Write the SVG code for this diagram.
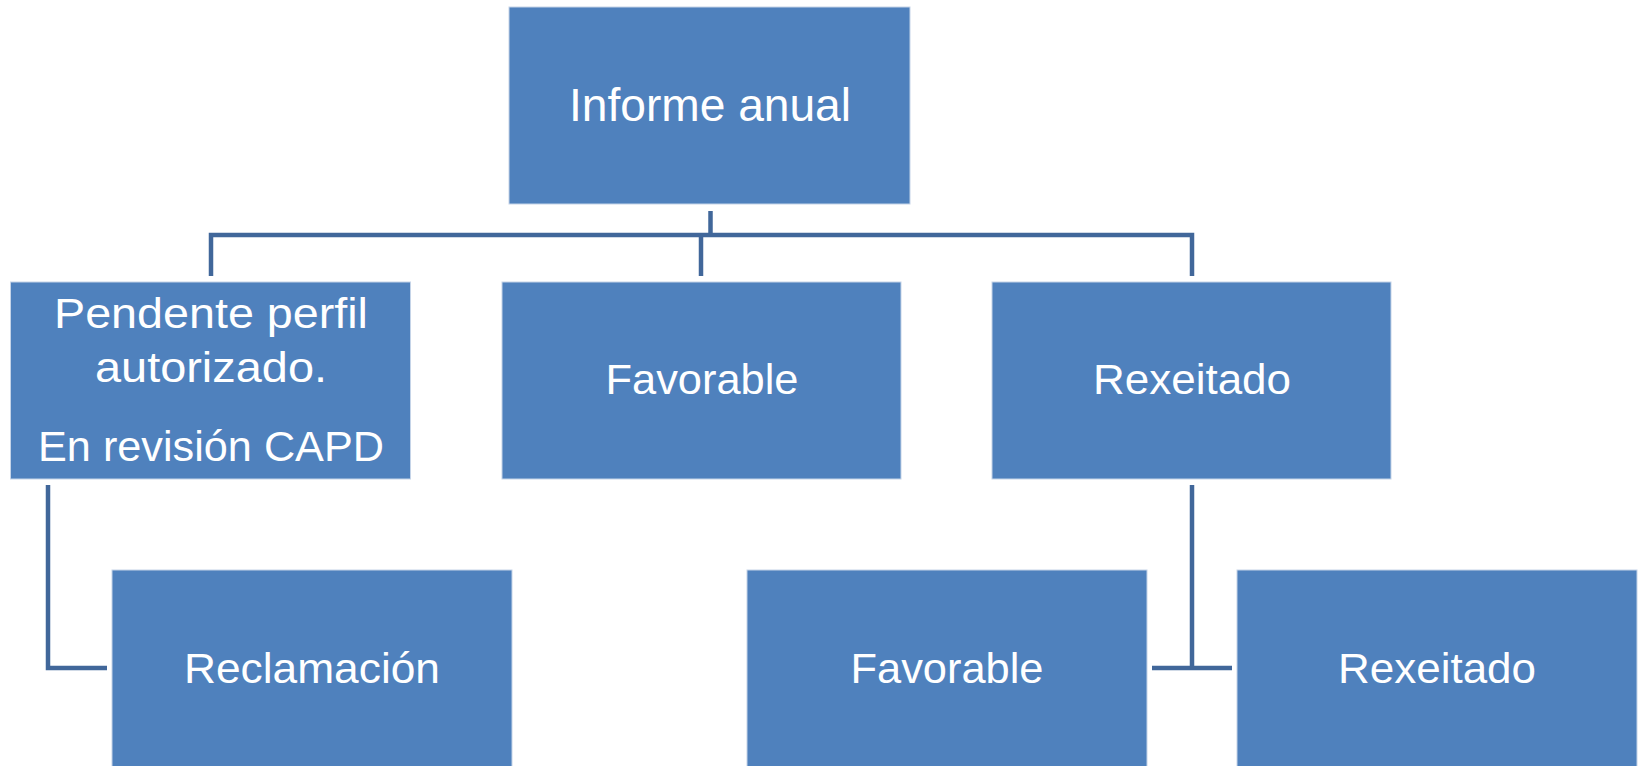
<svg xmlns="http://www.w3.org/2000/svg" width="1643" height="766" viewBox="0 0 1643 766">
<style>
.box{fill:#4f81bd;stroke:#c5d4e8;stroke-width:1}
.t{fill:#ffffff;font-family:"Liberation Sans","Noto Sans",Arial,sans-serif;font-size:42px;text-anchor:middle}
.big{font-size:47px}
.c{fill:none;stroke:#41679a;stroke-width:4.5;stroke-linejoin:miter;stroke-linecap:butt}
</style>
<rect width="1643" height="766" fill="#ffffff"/>
<g id="connectors">
<path class="c" d="M710.5,211 V235"/>
<path class="c" d="M211,276 V235 H1192 V276"/>
<path class="c" d="M701,235 V276"/>
<path class="c" d="M48,485 V668 H107"/>
<path class="c" d="M1192,485 V668"/>
<path class="c" d="M1152,668 H1232"/>
</g>
<g id="n-informe">
<rect class="box" x="509" y="7" width="401" height="197"/>
<text class="t big" x="710" y="121" textLength="282" lengthAdjust="spacingAndGlyphs">Informe anual</text>
</g>
<g id="n-pendente">
<rect class="box" x="10.5" y="282" width="400" height="197"/>
<text class="t" x="211" y="328" textLength="314" lengthAdjust="spacingAndGlyphs">Pendente perfil</text>
<text class="t" x="211" y="382" textLength="232" lengthAdjust="spacingAndGlyphs">autorizado.</text>
<text class="t" x="211" y="461" textLength="346" lengthAdjust="spacingAndGlyphs">En revisión CAPD</text>
</g>
<g id="n-favorable1">
<rect class="box" x="502" y="282" width="399" height="197"/>
<text class="t" x="702" y="394" textLength="193" lengthAdjust="spacingAndGlyphs">Favorable</text>
</g>
<g id="n-rexeitado1">
<rect class="box" x="992" y="282" width="399" height="197"/>
<text class="t" x="1192" y="394" textLength="198" lengthAdjust="spacingAndGlyphs">Rexeitado</text>
</g>
<g id="n-reclamacion">
<rect class="box" x="112" y="570" width="400" height="200"/>
<text class="t" x="312" y="683" textLength="256" lengthAdjust="spacingAndGlyphs">Reclamación</text>
</g>
<g id="n-favorable2">
<rect class="box" x="747" y="570" width="400" height="200"/>
<text class="t" x="947" y="683" textLength="193" lengthAdjust="spacingAndGlyphs">Favorable</text>
</g>
<g id="n-rexeitado2">
<rect class="box" x="1237" y="570" width="400" height="200"/>
<text class="t" x="1437" y="683" textLength="198" lengthAdjust="spacingAndGlyphs">Rexeitado</text>
</g>
</svg>
